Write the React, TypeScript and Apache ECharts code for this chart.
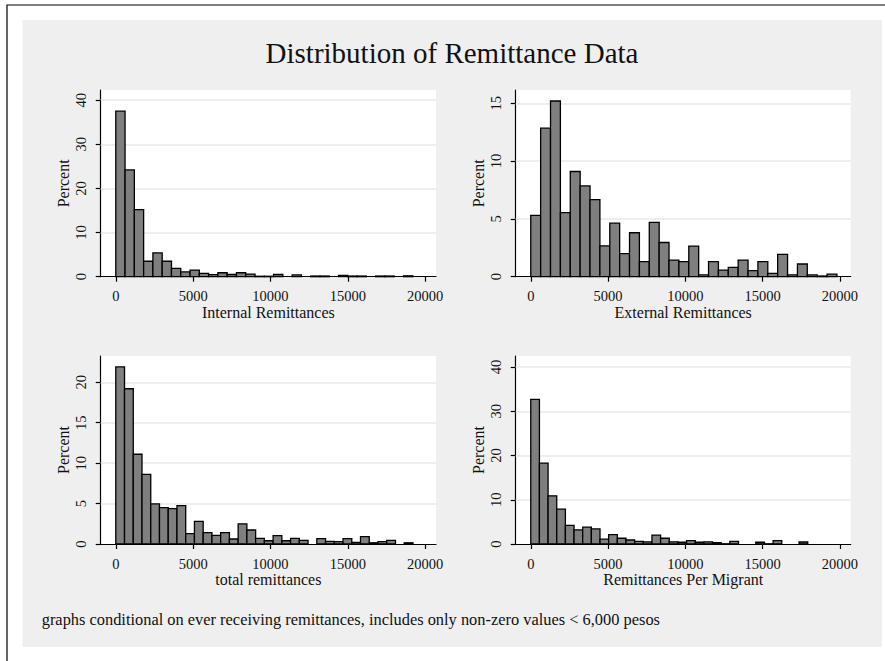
import React, { useEffect, useRef } from "react";
import * as echarts from "echarts";

const titleText = "Distribution of Remittance Data";
const noteText =
  "graphs conditional on ever receiving remittances, includes only non-zero values < 6,000 pesos";

const xTickValues = [0, 5000, 10000, 15000, 20000];

const internalTicks = [0, 10, 20, 30, 40];
const externalTicks = [0, 5, 10, 15];
const totalTicks = [0, 5, 10, 15, 20];
const perMigrantTicks = [0, 10, 20, 30, 40];

const internalBinWidth = 600;
const internalPercent = [
  37.5, 24.2, 15.2, 3.5, 5.4, 3.5, 1.9, 1.1, 1.5, 0.75, 0.45, 0.9, 0.5, 0.9, 0.6, 0.1,
  0.1, 0.5, 0, 0.4, 0, 0.15, 0.15, 0, 0.3, 0.15, 0.15, 0, 0.15, 0.15, 0, 0.2,
];

const externalBinWidth = 639;
const externalPercent = [
  5.3, 12.85, 15.2, 5.55, 9.1, 7.85, 6.67, 2.67, 4.63, 2.0, 3.8, 1.3, 4.7, 2.96, 1.44,
  1.3, 2.64, 0.15, 1.3, 0.57, 0.8, 1.44, 0.52, 1.3, 0.29, 1.93, 0.15, 1.1, 0.15, 0.06,
  0.23,
];

const totalBinWidth = 565;
const totalPercent = [
  21.9, 19.2, 11.1, 8.6, 4.95, 4.5, 4.37, 4.74, 1.28, 2.8, 1.4, 1.07, 1.4, 0.62, 2.5,
  1.73, 0.7, 0.4, 1.03, 0.4, 0.7, 0.45, 0, 0.66, 0.33, 0.3, 0.66, 0.2, 0.9, 0.15, 0.3,
  0.45, 0, 0.15,
];

const perMigrantBinWidth = 560;
const perMigrantPercent = [
  32.7, 18.3, 10.9, 7.9, 4.2, 3.2, 3.8, 3.4, 1.1, 2.1, 1.3, 0.9, 0.6, 0.5, 2.0, 1.3,
  0.5, 0.4, 0.75, 0.4, 0.5, 0.3, 0.05, 0.6, 0, 0, 0.4, 0.05, 0.75, 0, 0, 0.45,
];

const panels = [
  { name: "Internal Remittances", values: internalPercent, bw: internalBinWidth, ticks: internalTicks, ymax: 42.3 },
  { name: "External Remittances", values: externalPercent, bw: externalBinWidth, ticks: externalTicks, ymax: 16.15 },
  { name: "total remittances", values: totalPercent, bw: totalBinWidth, ticks: totalTicks, ymax: 23.25 },
  { name: "Remittances Per Migrant", values: perMigrantPercent, bw: perMigrantBinWidth, ticks: perMigrantTicks, ymax: 42.5 },
];

const FONT = "'Liberation Serif', 'DejaVu Serif', serif";

export default function App() {
  const ref = useRef<HTMLDivElement>(null);
  useEffect(() => {
    if (!ref.current) return;
    const chart = echarts.init(ref.current, null, { renderer: "svg" });

    const gridPos = [
      { left: 100.7, top: 90, width: 335.3, height: 186.7 },
      { left: 515.7, top: 90, width: 335, height: 186.7 },
      { left: 100.7, top: 356, width: 335.3, height: 188 },
      { left: 515.7, top: 356, width: 335, height: 188 },
    ];

    const grid = gridPos.map((g) => ({
      ...g,
      show: true,
      backgroundColor: "#ffffff",
      borderWidth: 0,
      containLabel: false,
    }));

    const fmt = (v: number) => String(v);

    const xAxis = panels.map((p, i) => ({
      type: "value",
      gridIndex: i,
      min: -975,
      max: 20700,
      name: p.name,
      nameLocation: "middle",
      nameGap: 27,
      nameTextStyle: { fontFamily: FONT, fontSize: 16, color: "#111" },
      axisLine: { show: true, onZero: false, lineStyle: { color: "#000", width: 1.2 } },
      axisTick: { show: true, length: 5, customValues: xTickValues, lineStyle: { color: "#000", width: 1.2 } },
      axisLabel: {
        show: true,
        customValues: xTickValues,
        formatter: fmt,
        margin: 12,
        fontFamily: FONT,
        fontSize: 14.5,
        color: "#111",
      },
      splitLine: { show: false },
    }));

    const yAxis = panels.map((p, i) => ({
      type: "value",
      gridIndex: i,
      min: 0,
      max: p.ymax,
      name: "Percent",
      nameLocation: "middle",
      nameGap: 29,
      nameTextStyle: { fontFamily: FONT, fontSize: 16, color: "#111" },
      axisLine: { show: true, onZero: false, lineStyle: { color: "#000", width: 1.2 } },
      axisTick: { show: true, length: 5, customValues: p.ticks, lineStyle: { color: "#000", width: 1.2 } },
      axisLabel: {
        show: true,
        customValues: p.ticks,
        formatter: fmt,
        rotate: 90,
        margin: 12,
        fontFamily: FONT,
        fontSize: 14.5,
        color: "#111",
      },
      splitLine: { show: false },
    }));

    const series: any[] = [];
    panels.forEach((p, i) => {
      series.push({
        type: "line",
        xAxisIndex: i,
        yAxisIndex: i,
        data: [],
        silent: true,
        z: 1,
        markLine: {
          silent: true,
          z: 1,
          symbol: ["none", "none"],
          label: { show: false },
          lineStyle: { color: "#e8e8e8", width: 1.5, type: "solid" },
          data: p.ticks.filter((t) => t > 0).map((t) => ({ yAxis: t })),
        },
      });
      series.push({
        type: "custom",
        xAxisIndex: i,
        yAxisIndex: i,
        z: 3,
        data: p.values.map((v, k) => [k * p.bw, (k + 1) * p.bw, v]),
        encode: { x: [0, 1], y: 2 },
        renderItem: (params: any, api: any) => {
          const v = api.value(2);
          if (!v) return null;
          const a = api.coord([api.value(0), v]);
          const b = api.coord([api.value(1), 0]);
          return {
            type: "rect",
            shape: { x: a[0], y: a[1], width: b[0] - a[0], height: b[1] - a[1] },
            style: { fill: "#7f7f7f", stroke: "#000", lineWidth: 1.3 },
          };
        },
      });
    });

    chart.setOption({
      animation: false,
      backgroundColor: "#ffffff",
      grid,
      xAxis,
      yAxis,
      series,
      graphic: [
        {
          type: "rect",
          z: -20,
          shape: { x: 7, y: 5, width: 920, height: 700 },
          style: { fill: "#ffffff", stroke: "#000", lineWidth: 1.2 },
        },
        {
          type: "rect",
          z: -10,
          shape: { x: 22.5, y: 20, width: 859.5, height: 627 },
          style: { fill: "#efefef" },
        },
        {
          type: "text",
          z: 10,
          x: 452,
          y: 53,
          style: {
            text: titleText,
            fontFamily: FONT,
            fontSize: 29,
            fill: "#111",
            align: "center",
            verticalAlign: "middle",
          },
        },
        {
          type: "text",
          z: 10,
          x: 41.7,
          y: 619,
          style: {
            text: noteText,
            fontFamily: FONT,
            fontSize: 16.4,
            fill: "#111",
            align: "left",
            verticalAlign: "middle",
          },
        },
      ],
    });
    return () => chart.dispose();
  }, []);
  return (
    <div
      ref={ref}
      style={{ position: "absolute", left: 0, top: 0, width: 885, height: 661 }}
    />
  );
}
